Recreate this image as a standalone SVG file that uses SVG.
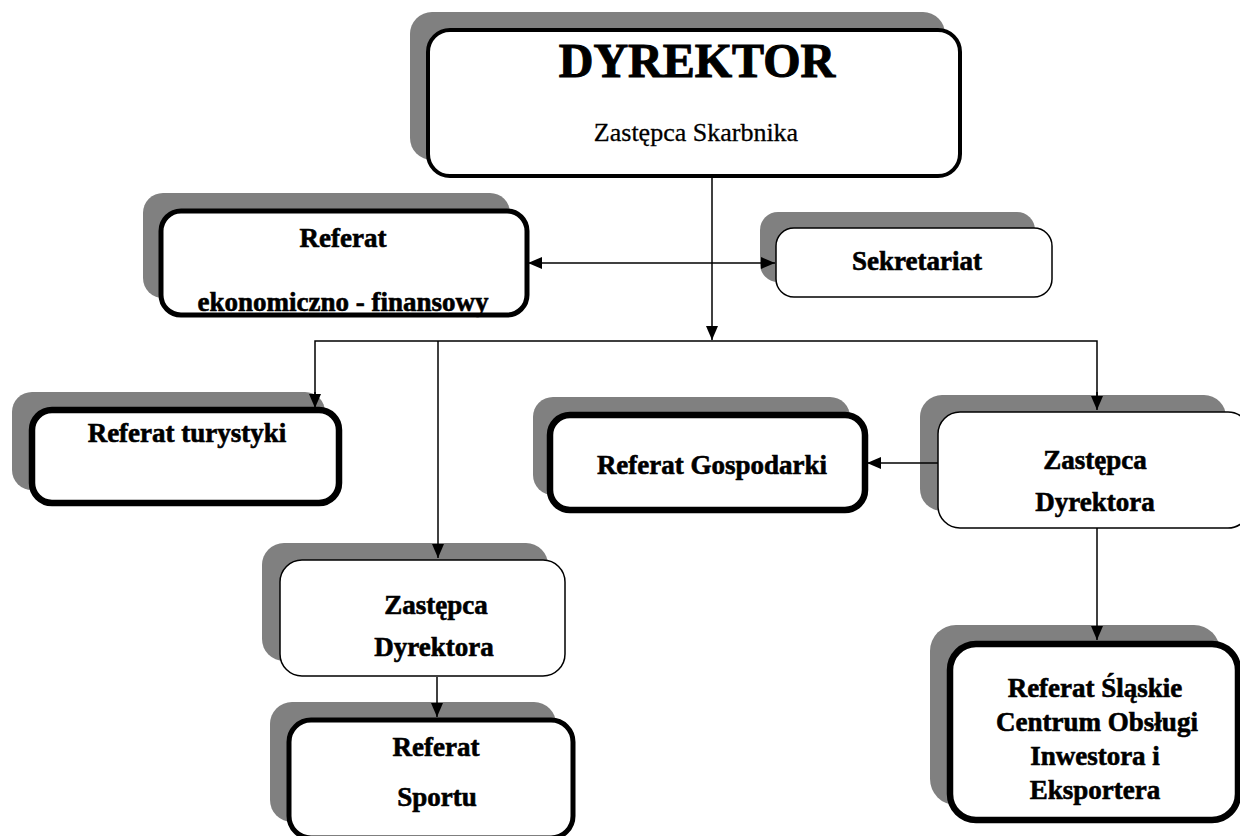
<svg xmlns="http://www.w3.org/2000/svg" width="1240" height="836" viewBox="0 0 1240 836">
<defs>
<marker id="arr" viewBox="0 0 14 12" refX="14" refY="6" markerWidth="14" markerHeight="12" markerUnits="userSpaceOnUse" orient="auto-start-reverse">
<path d="M0,0 L14,6 L0,12 Z" fill="#000"/>
</marker>
</defs>
<style>
.sh{fill:#808080;stroke:none}
.bx{fill:#fff;stroke:#000}
.thin{stroke-width:1.5}
.mid{stroke-width:4}
.thick{stroke-width:6.5}
.ln{stroke:#000;stroke-width:1.5;fill:none}
.t{font-family:"Liberation Serif","Times New Roman",serif;font-weight:bold;font-size:27px;fill:#000;stroke:#000;stroke-width:0.6;text-anchor:middle}
.big{font-size:48px;stroke-width:1}
.reg{font-weight:normal;font-size:26px;stroke-width:0.3}
</style>
<rect width="1240" height="836" fill="#fff"/>

<g id="dyrektor">
<rect class="sh" x="410" y="12" width="535" height="148" rx="22"/>
<rect class="bx mid" x="428" y="30" width="532" height="146" rx="22"/>
<text class="t big" x="697" y="77">DYREKTOR</text>
<text class="t reg" x="696" y="141">Zastępca Skarbnika</text>
</g>

<g id="ekonomiczno">
<rect class="sh" x="143" y="193" width="367" height="105" rx="20"/>
<rect class="bx" style="stroke-width:5" x="161" y="211" width="366" height="104" rx="20"/>
<text class="t" x="343" y="247">Referat</text>
<text class="t" x="343" y="311">ekonomiczno - finansowy</text>
</g>

<g id="sekretariat">
<rect class="sh" x="760" y="212" width="275" height="70" rx="18"/>
<rect class="bx thin" x="776" y="228" width="276" height="69" rx="18"/>
<text class="t" x="917" y="270">Sekretariat</text>
</g>

<g id="turystyki">
<rect class="sh" x="12" y="392" width="313" height="98" rx="20"/>
<rect class="bx thick" x="32" y="410" width="307" height="93" rx="20"/>
<text class="t" x="187" y="442">Referat turystyki</text>
</g>

<g id="gospodarki">
<rect class="sh" x="533" y="397" width="317" height="98" rx="20"/>
<rect class="bx thick" x="550" y="415" width="315" height="95" rx="20"/>
<text class="t" x="712" y="474">Referat Gospodarki</text>
</g>

<g id="zastepca-prawy">
<rect class="sh" x="920" y="395" width="306" height="116" rx="22"/>
<rect class="bx thin" x="938" y="412" width="312" height="116" rx="22"/>
<text class="t" x="1095" y="469">Zastępca</text>
<text class="t" x="1095" y="511">Dyrektora</text>
</g>

<g id="slaskie">
<rect class="sh" x="930" y="625" width="290" height="180" rx="26"/>
<rect class="bx thick" x="950" y="644" width="288" height="176" rx="26"/>
<text class="t" x="1095" y="697">Referat Śląskie</text>
<text class="t" x="1097" y="731">Centrum Obsługi</text>
<text class="t" x="1095" y="765">Inwestora i</text>
<text class="t" x="1095" y="799">Eksportera</text>
</g>

<g id="zastepca-lewy">
<rect class="sh" x="262" y="543" width="286" height="118" rx="22"/>
<rect class="bx thin" x="280" y="560" width="285" height="116" rx="22"/>
<text class="t" x="436" y="614">Zastępca</text>
<text class="t" x="434" y="656">Dyrektora</text>
</g>

<g id="sportu">
<rect class="sh" x="270" y="702" width="286" height="120" rx="22"/>
<rect class="bx" style="stroke-width:5" x="289" y="720" width="284" height="118" rx="22"/>
<text class="t" x="436" y="756">Referat</text>
<text class="t" x="437" y="806">Sportu</text>
</g>

<g id="connectors">
<line class="ln" x1="712" y1="177" x2="712" y2="340" marker-end="url(#arr)"/>
<line class="ln" x1="528" y1="263" x2="775" y2="263" marker-start="url(#arr)" marker-end="url(#arr)"/>
<polyline class="ln" points="315,396 315,341 1097,341 1097,396"/>
<line class="ln" x1="315" y1="392" x2="315" y2="408" marker-end="url(#arr)"/>
<line class="ln" x1="1097" y1="392" x2="1097" y2="410" marker-end="url(#arr)"/>
<line class="ln" x1="438" y1="341" x2="438" y2="558" marker-end="url(#arr)"/>
<line class="ln" x1="938" y1="463" x2="867" y2="463" marker-end="url(#arr)"/>
<line class="ln" x1="1097" y1="528" x2="1097" y2="640" marker-end="url(#arr)"/>
<line class="ln" x1="437" y1="677" x2="437" y2="717" marker-end="url(#arr)"/>
</g>
</svg>
